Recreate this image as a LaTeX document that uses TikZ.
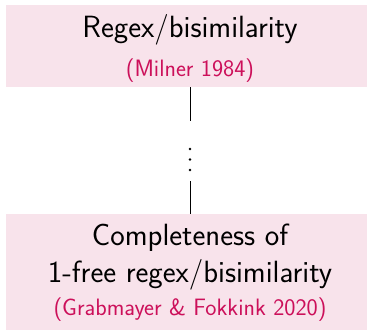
\documentclass[tikz,border=0pt]{standalone}
\usepackage{fontspec}
\definecolor{boxpink}{RGB}{248,227,235}
\definecolor{citered}{RGB}{204,16,90}
\tikzset{
	box/.style={fill=boxpink, inner sep=0pt, minimum width=361pt},
	title/.style={anchor=base, inner sep=0pt, font=\sffamily\fontsize{30.7}{36}\selectfont},
	cite/.style={anchor=base, inner sep=0pt, text=citered, font=\sffamily\fontsize{23.7}{28}\selectfont},
}
\begin{document}
\begin{tikzpicture}[x=1pt,y=-1pt]
	\useasboundingbox (0,0) rectangle (372,330);
	% the two boxes
	\node[box, minimum height=82pt] (topbox) at (186.5,46) {};
	\node[box, minimum height=116pt] (botbox) at (186.5,272) {};
	% texts
	\node[title] (regex) at (190,37) {Regex/bisimilarity};
	\node[cite] (milner) at (190,76) {(Milner 1984)};
	\node[title] (complete) at (190,245.7) {Completeness of};
	\node[title] (onefree) at (190,282.7) {1-free regex/bisimilarity};
	\node[cite] (grabmayer) at (190,315) {(Grabmayer \& Fokkink 2020)};
	% the gap
	\coordinate (gaptop) at (190,121);
	\coordinate (gapbot) at (190,181);
	\draw[line width=0.8pt] (topbox.south -| gaptop) -- (gaptop);
	\draw[line width=0.8pt] (gapbot) -- (botbox.north -| gapbot);
	\foreach \y in {149,159.5,170}
		\fill (190,\y) circle (1.3pt);
\end{tikzpicture}
\end{document}
